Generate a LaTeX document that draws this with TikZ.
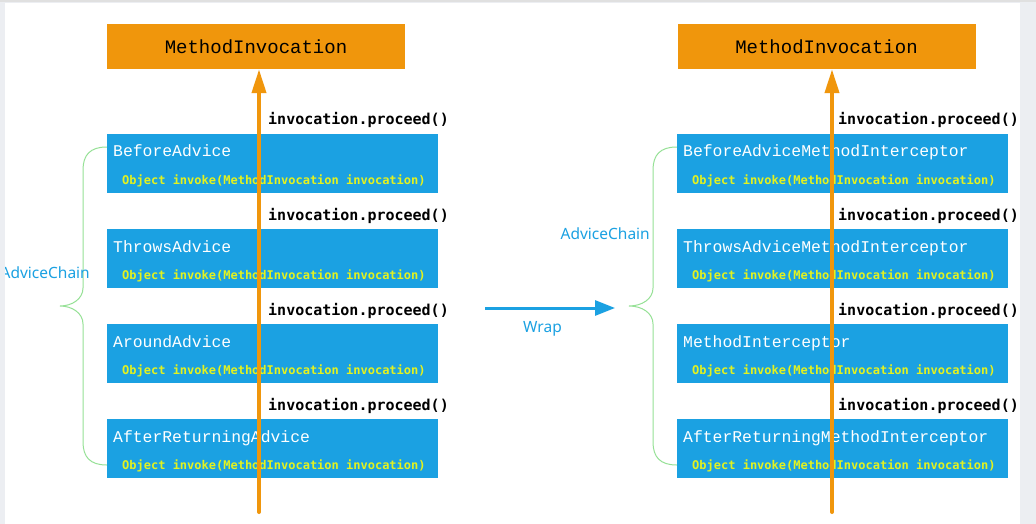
\documentclass[tikz,border=0pt]{standalone}
\usepackage{fontspec}
\setmainfont{Noto Sans}
\newfontfamily\lmono{Liberation Mono}
\newfontfamily\dmono{DejaVu Sans Mono}
\usetikzlibrary{arrows.meta}
\definecolor{orng}{RGB}{240,150,12}
\definecolor{bbox}{RGB}{27,161,226}
\definecolor{ylw}{RGB}{228,242,30}
\definecolor{grn}{RGB}{150,225,150}
\definecolor{framec}{RGB}{236,238,242}
\tikzset{
 mibox/.style={fill=orng, draw=none, minimum width=298pt, minimum height=45pt, inner sep=0, font=\lmono\fontsize{19}{19}\selectfont, text=black},
 advbox/.style={fill=bbox, draw=none, minimum width=331pt, minimum height=59pt, inner sep=0},
 title/.style={anchor=base west, inner sep=0, text=white, font=\lmono\fontsize{16.4}{16.4}\selectfont},
 sig/.style={anchor=base west, inner sep=0, text=ylw, font=\dmono\bfseries\fontsize{12}{12}\selectfont},
 proc/.style={anchor=base west, inner sep=0, text=black, font=\dmono\bfseries\fontsize{15}{15}\selectfont},
 flow/.style={draw=orng, line width=4pt, line cap=round, -{Triangle[length=24pt,width=14pt]}},
 chain/.style={draw=grn, line width=1pt},
 lbl/.style={text=bbox, font=\fontsize{15.5}{15.5}\selectfont, inner sep=0},
 wrapar/.style={draw=bbox, line width=3pt, -{Triangle[length=20pt,width=15pt]}},
}
\begin{document}
\begin{tikzpicture}[x=1pt,y=-1pt]
\useasboundingbox (0,0) rectangle (1036,524);
\fill[framec] (0,0) rectangle (1036,524);
\fill[white] (5,3) rectangle (1020,524);

% ---------- left ----------
\node[mibox] (miL) at (256,46.5) {MethodInvocation};
\node[advbox] (bL1) at (272.5,163.5) {};
\node[advbox] (bL2) at (272.5,258.5) {};
\node[advbox] (bL3) at (272.5,353.5) {};
\node[advbox] (bL4) at (272.5,448.5) {};
\node[title] (tL1) at (113,157) {BeforeAdvice};
\node[title] (tL2) at (113,252) {ThrowsAdvice};
\node[title] (tL3) at (113,347) {AroundAdvice};
\node[title] (tL4) at (113,442) {AfterReturningAdvice};
\node[sig] (sL1) at (122,184) {Object invoke(MethodInvocation invocation)};
\node[sig] (sL2) at (122,279) {Object invoke(MethodInvocation invocation)};
\node[sig] (sL3) at (122,374) {Object invoke(MethodInvocation invocation)};
\node[sig] (sL4) at (122,469) {Object invoke(MethodInvocation invocation)};
\coordinate (fL) at (259,512);
\draw[flow] (fL) -- (fL |- miL.south);
\node[proc] (pL1) at (268,125) {invocation.proceed()};
\node[proc] (pL2) at (268,220) {invocation.proceed()};
\node[proc] (pL3) at (268,315) {invocation.proceed()};
\node[proc] (pL4) at (268,410) {invocation.proceed()};
\draw[chain] (bL1.west |- 0,147) .. controls (90,147) and (83,155) .. (83,170) -- (83,288)
  .. controls (83,299) and (72,306) .. (60,306) .. controls (72,306) and (83,313) .. (83,324)
  -- (83,442) .. controls (83,457) and (90,465) .. (bL4.west |- 0,465);
\node[lbl, anchor=east] (acL) at (90,273) {AdviceChain};

% ---------- wrap ----------
\coordinate (w0) at (485,308);
\coordinate (w1) at (615,308);
\draw[wrapar] (w0) -- (w1);
\node[lbl] (wrap) at (542.5,329) {Wrap};

% ---------- right ----------
\node[mibox] (miR) at (826.5,46.5) {MethodInvocation};
\node[advbox] (bR1) at (842.5,163.5) {};
\node[advbox] (bR2) at (842.5,258.5) {};
\node[advbox] (bR3) at (842.5,353.5) {};
\node[advbox] (bR4) at (842.5,448.5) {};
\node[title] (tR1) at (683,157) {BeforeAdviceMethodInterceptor};
\node[title] (tR2) at (683,252) {ThrowsAdviceMethodInterceptor};
\node[title] (tR3) at (683,347) {MethodInterceptor};
\node[title] (tR4) at (683,442) {AfterReturningMethodInterceptor};
\node[sig] (sR1) at (692,184) {Object invoke(MethodInvocation invocation)};
\node[sig] (sR2) at (692,279) {Object invoke(MethodInvocation invocation)};
\node[sig] (sR3) at (692,374) {Object invoke(MethodInvocation invocation)};
\node[sig] (sR4) at (692,469) {Object invoke(MethodInvocation invocation)};
\coordinate (fR) at (832,512);
\draw[flow] (fR) -- (fR |- miR.south);
\node[proc] (pR1) at (838,125) {invocation.proceed()};
\node[proc] (pR2) at (838,220) {invocation.proceed()};
\node[proc] (pR3) at (838,315) {invocation.proceed()};
\node[proc] (pR4) at (838,410) {invocation.proceed()};
\draw[chain] (bR1.west |- 0,147) .. controls (660,147) and (653,155) .. (653,170) -- (653,288)
  .. controls (653,299) and (642,306) .. (629,306) .. controls (642,306) and (653,313) .. (653,324)
  -- (653,442) .. controls (653,457) and (660,465) .. (bR4.west |- 0,465);
\node[lbl, anchor=east] (acR) at (650,234) {AdviceChain};

% frame strip over the left label
\fill[framec] (0,0) rectangle (5,524);
\fill[black!12] (0,0) rectangle (1036,2.5);
\end{tikzpicture}
\end{document}
